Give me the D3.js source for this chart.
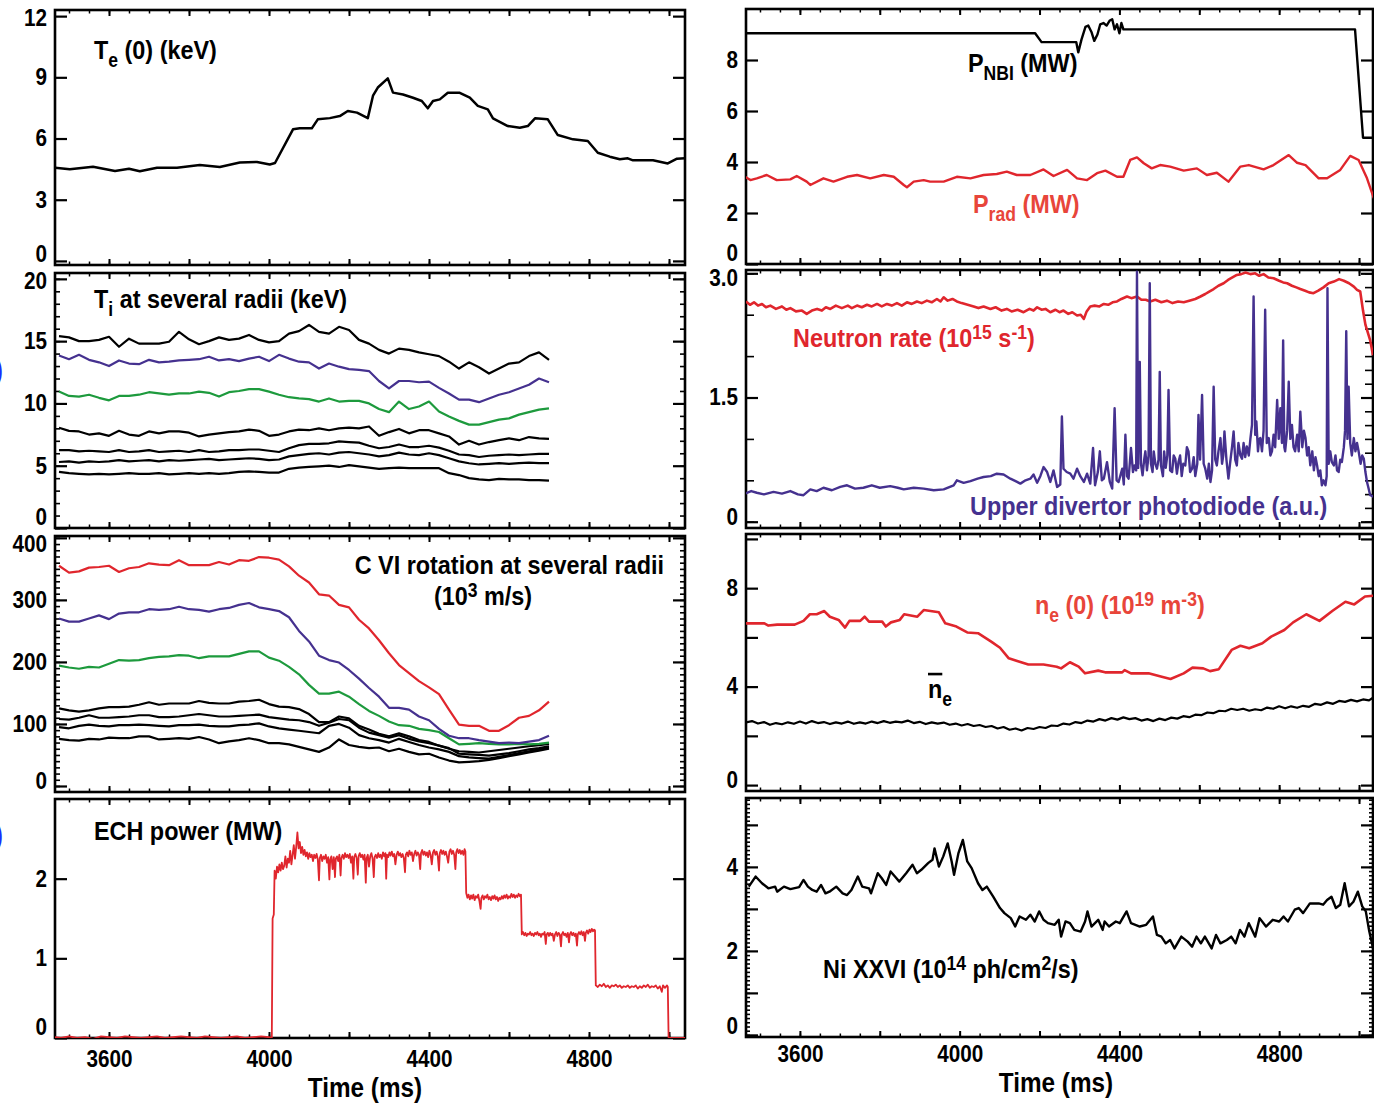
<!DOCTYPE html>
<html>
<head>
<meta charset="utf-8">
<script src="https://cdn.jsdelivr.net/npm/d3@7"></script>
<style>
  body { margin: 0; background: #fff; }
  svg { display: block; }
  text { font-family: "Liberation Sans", Arial, sans-serif; font-weight: bold; }
</style>
</head>
<body>
<div id="fig"></div>
<script>
// ---------- data ----------
// Ti and rotation profiles share one time grid: 3475 ms + 25 ms * i
const gridStart = 3475, gridStep = 25;

const teCore = [[3465,4.57],[3502,4.49],[3560,4.62],[3615,4.41],[3650,4.52],[3677,4.4],[3720,4.57],[3770,4.57],[3827,4.7],[3877,4.6],[3927,4.82],[3970,4.85],[4002,4.73],[4015,4.8],[4060,6.45],[4077,6.5],[4107,6.5],[4122,6.94],[4152,7.0],[4177,7.1],[4197,7.35],[4220,7.27],[4247,7.0],[4260,8.1],[4272,8.5],[4297,8.95],[4310,8.25],[4335,8.16],[4360,8.0],[4382,7.84],[4397,7.48],[4410,7.84],[4427,7.92],[4447,8.24],[4477,8.24],[4502,8.0],[4522,7.6],[4547,7.43],[4560,6.99],[4597,6.61],[4627,6.53],[4647,6.61],[4665,6.99],[4697,6.94],[4722,6.17],[4760,5.96],[4797,5.88],[4822,5.3],[4852,5.11],[4877,4.98],[4897,5.03],[4910,4.93],[4960,4.93],[4997,4.78],[5020,5.01],[5040,5.03]];

const tiR1 = [15.4,15.3,15.0,15.0,15.1,15.35,14.55,15.2,14.8,14.8,14.8,14.95,15.75,15.15,14.75,15.0,15.3,15.1,15.2,15.5,15.1,14.9,15.0,15.6,15.8,16.3,15.75,15.6,16.15,15.9,15.1,14.8,14.3,14.0,14.4,14.3,14.1,13.95,13.8,13.35,12.8,13.3,12.9,12.4,12.8,13.2,13.3,13.8,14.1,13.5];
const tiR2 = [13.85,13.55,13.9,13.5,13.3,13.0,13.45,13.2,13.15,13.5,13.3,13.35,13.45,13.5,13.55,13.75,13.45,13.55,13.4,13.6,13.75,13.4,13.9,13.6,13.35,13.3,12.8,13.2,12.95,12.75,12.7,12.6,11.8,11.2,11.8,11.8,11.7,11.75,11.25,10.8,10.3,10.3,10.1,10.4,10.7,10.9,11.2,11.5,12.0,11.7];
const tiR3 = [10.95,10.6,10.55,10.7,10.45,10.25,10.6,10.6,10.7,10.9,10.8,10.7,10.8,10.8,10.95,10.85,10.55,10.9,11.0,11.15,11.15,10.95,10.7,10.5,10.4,10.35,10.15,10.4,10.15,10.2,10.2,10.0,9.55,9.3,10.15,9.55,9.75,10.15,9.35,8.95,8.6,8.3,8.3,8.5,8.7,8.8,9.1,9.3,9.5,9.6];
const tiR4 = [8.05,7.8,7.75,7.5,7.6,7.4,7.8,7.5,7.4,7.75,7.6,7.75,7.75,7.65,7.35,7.5,7.6,7.7,7.75,7.9,7.8,7.4,7.5,7.75,7.9,7.85,8.0,7.85,8.0,8.05,8.0,8.15,7.4,7.7,7.95,7.6,7.85,7.85,7.6,7.35,6.7,7.0,6.7,6.9,7.05,7.2,7.05,7.3,7.2,7.15];
const tiR5 = [6.25,6.25,6.15,6.2,6.15,6.1,6.25,6.1,6.15,6.25,6.1,6.15,6.2,6.1,6.25,6.1,6.15,6.25,6.25,6.3,6.3,6.2,6.1,6.4,6.65,6.75,6.75,6.8,6.95,6.9,6.85,6.6,6.4,6.5,6.7,6.5,6.5,6.6,6.45,6.2,5.9,5.85,5.7,5.8,5.85,5.9,5.85,5.9,5.95,5.95];
const tiR6 = [5.3,5.35,5.25,5.35,5.3,5.35,5.45,5.35,5.4,5.45,5.35,5.45,5.4,5.45,5.5,5.55,5.45,5.5,5.55,5.6,5.55,5.45,5.5,5.75,5.85,5.95,6.0,5.9,6.05,6.1,6.0,5.9,5.75,5.85,6.05,5.9,5.85,6.0,5.85,5.6,5.35,5.2,5.1,5.15,5.2,5.15,5.2,5.25,5.2,5.2];
const tiR7 = [4.5,4.4,4.35,4.3,4.35,4.3,4.35,4.4,4.35,4.35,4.4,4.3,4.35,4.4,4.35,4.4,4.35,4.4,4.5,4.55,4.5,4.45,4.45,4.75,4.85,4.9,4.95,5.0,4.9,5.05,4.95,4.85,4.75,4.8,4.85,4.8,4.8,4.8,4.8,4.4,4.25,4.0,3.9,3.85,3.95,3.9,3.9,3.85,3.85,3.8];

const rotR1 = [355,344,346,352,353,355,345,351,353,359,357,356,364,356,356,356,361,357,364,363,369,368,365,354,339,328,309,307,292,288,268,254,235,214,195,182,169,159,148,123,99,97,97,89,89,98,110,113,122,136];
const rotR2 = [270,265,265,270,275,269,278,280,280,285,284,285,289,285,284,281,285,287,292,295,288,285,282,272,250,233,210,203,199,187,173,158,144,126,126,123,112,106,92,81,77,77,74,71.5,69,70,69,71.5,74,81];
const rotR3 = [194,191,189,192,191,197,203,202,203,206,208,209,211,210,206,209,209,209,213,217,217,207,202,192,180,163,149,149,152,144,132,121,113,104,98,97,92,90,87,77,67,68,69,68,67,67,68,67,68,70];
const rotR4 = [125,122,120,122,125,127,127,128,131,135,131,133,133,133,137,134,133,133,136,137,139,132,128,127,124,116,103,103,112,109,97,91,84,80,85,80,74,71,65,60,56,55,54,56,58,60,62,64,66,68];
const rotR5 = [108,107,110,114,110,110,111,112,114,114,111,111,112,114,116,114,112,112,113,114,115,111,109,107,106,103,97,102,108,106,94,86,82,78,82,76,72,69,65,61,52,51,50,49,51,53,56,59,61,64];
const rotR6 = [95,93,97,99,97,96,98,98,99,98,97,96,98,98,99,97,96,96,98,99,101,96,93,91,89,87,85,97,100,94,82,77,74,70,76,71,66,62,59,55,48,46,45,44,47,50,53,56,59,62];
const rotR7 = [76,74,73,76,75,78,77,77,80,80,75,76,77,76,79,75,69,72,74,77,74,69,69,67,63,59,55,62,75,66,63,61,62,56,60,55,51,52,46,41,38,39,40,42,45,48,51,54,57,60];

const echPower = [[3465,0.01],[3480,0.0],[3500,0.02],[3520,0.0],[3540,0.01],[3560,-0.01],[3580,0.02],[3600,0.01],[3620,0.0],[3640,0.02],[3660,0.01],[3680,0.0],[3700,0.01],[3720,0.02],[3740,0.0],[3760,0.01],[3780,0.02],[3800,0.01],[3820,0.0],[3840,0.02],[3860,0.01],[3880,0.0],[3900,0.01],[3920,0.02],[3940,0.0],[3960,0.01],[3980,0.02],[4000,0.01],[4007,0.0],
  [4009,1.5],[4012,1.55],[4014,2.1],[4017,2.0],[4020,2.15],[4023,2.08],[4026,2.18],[4029,2.1],[4032,2.2],[4035,2.12],[4038,2.16],[4041,2.28],[4044,2.14],[4047,2.25],[4050,2.2],[4053,2.35],[4056,2.18],[4059,2.3],[4062,2.42],[4065,2.25],[4068,2.4],[4071,2.58],[4074,2.38],[4077,2.46],[4080,2.32],[4083,2.4],[4086,2.3],[4089,2.36],[4092,2.28],[4095,2.33],[4098,2.25],[4101,2.32],[4104,2.27],[4107,2.3],[4110,2.22],[4113,2.3],[4116,2.26],[4119,2.31],[4122,2.24],[4125,1.98],[4127,2.26],[4130,2.3],[4133,2.22],[4136,2.28],[4139,2.25],[4142,2.3],[4145,2.2],[4148,2.27],[4151,1.99],[4153,2.24],[4156,2.28],[4159,2.12],[4162,2.27],[4165,2.02],[4167,2.25],[4170,2.28],[4173,2.22],[4176,2.3],[4179,2.04],[4181,2.26],[4184,2.3],[4187,2.25],[4190,2.32],[4193,2.27],[4196,2.3],[4199,2.26],[4202,2.31],[4205,2.2],[4208,2.28],[4211,2.0],[4213,2.27],[4216,2.31],[4219,2.26],[4222,2.05],[4224,2.28],[4227,2.32],[4230,2.27],[4233,2.3],[4236,2.24],[4239,2.3],[4242,1.95],[4244,2.26],[4247,2.3],[4250,2.15],[4253,2.28],[4256,2.32],[4259,2.25],[4262,2.02],[4264,2.27],[4267,2.3],[4270,2.26],[4273,2.32],[4276,2.27],[4279,2.3],[4282,2.25],[4285,2.33],[4288,2.28],[4291,2.32],[4293,2.0],[4295,2.3],[4298,2.27],[4301,2.33],[4304,2.29],[4307,2.34],[4310,2.28],[4313,2.31],[4316,2.18],[4319,2.3],[4322,2.34],[4325,2.29],[4328,2.32],[4331,2.27],[4334,2.31],[4337,2.26],[4340,2.08],[4342,2.3],[4345,2.33],[4348,2.28],[4351,2.35],[4354,2.3],[4357,2.33],[4360,2.22],[4363,2.31],[4366,2.35],[4369,2.29],[4372,2.33],[4375,2.3],[4378,2.12],[4380,2.32],[4383,2.36],[4386,2.3],[4389,2.34],[4392,2.29],[4395,2.33],[4398,2.27],[4401,2.35],[4404,2.3],[4407,2.18],[4410,2.33],[4413,2.36],[4416,2.3],[4419,2.34],[4422,2.28],[4425,2.1],[4427,2.32],[4430,2.36],[4433,2.31],[4436,2.35],[4439,2.3],[4442,2.34],[4445,2.28],[4448,2.2],[4451,2.34],[4454,2.37],[4457,2.31],[4460,2.35],[4463,2.3],[4466,2.12],[4468,2.33],[4471,2.37],[4474,2.32],[4477,2.36],[4480,2.31],[4483,2.35],[4486,2.3],[4489,2.37],[4491,2.34],
  [4493,1.82],[4496,1.76],[4499,1.8],[4502,1.74],[4505,1.79],[4508,1.75],[4511,1.8],[4514,1.73],[4517,1.78],[4520,1.76],[4523,1.8],[4526,1.72],[4529,1.62],[4531,1.76],[4534,1.79],[4537,1.74],[4540,1.78],[4543,1.76],[4546,1.8],[4549,1.74],[4552,1.77],[4555,1.73],[4558,1.78],[4561,1.75],[4564,1.79],[4567,1.74],[4570,1.77],[4573,1.72],[4576,1.76],[4579,1.74],[4582,1.78],[4585,1.75],[4588,1.79],[4591,1.76],[4594,1.8],[4597,1.75],[4600,1.78],[4603,1.76],[4606,1.81],[4609,1.77],[4612,1.8],[4615,1.76],[4618,1.79],[4621,1.77],[4624,1.81],[4627,1.78],[4630,1.8],
  [4632,1.3],[4635,1.33],[4638,1.29],[4641,1.32],[4644,1.28],[4647,1.31],[4650,1.3],[4653,1.33],[4656,1.29],[4659,1.31],[4662,1.28],[4665,1.32],[4668,1.3],[4671,1.33],[4674,1.29],[4677,1.31],[4680,1.27],[4683,1.31],[4686,1.3],[4689,1.33],[4692,1.18],[4694,1.3],[4697,1.32],[4700,1.28],[4703,1.32],[4706,1.29],[4709,1.31],[4712,1.22],[4715,1.3],[4718,1.33],[4721,1.28],[4724,1.32],[4727,1.3],[4730,1.15],[4732,1.3],[4735,1.33],[4738,1.29],[4741,1.31],[4744,1.27],[4747,1.32],[4750,1.2],[4752,1.3],[4755,1.33],[4758,1.29],[4761,1.32],[4764,1.28],[4767,1.31],[4770,1.16],[4772,1.3],[4775,1.33],[4778,1.3],[4781,1.34],[4784,1.29],[4787,1.33],[4790,1.22],[4792,1.32],[4795,1.35],[4798,1.31],[4801,1.36],[4804,1.33],[4807,1.37],[4810,1.34],[4813,1.36],[4815,1.35],
  [4817,0.66],[4822,0.64],[4827,0.67],[4832,0.65],[4837,0.68],[4842,0.64],[4847,0.66],[4852,0.63],[4857,0.66],[4862,0.65],[4867,0.67],[4872,0.64],[4877,0.66],[4882,0.63],[4887,0.65],[4892,0.64],[4897,0.66],[4902,0.63],[4907,0.65],[4912,0.64],[4917,0.66],[4922,0.62],[4927,0.65],[4932,0.63],[4937,0.66],[4942,0.64],[4947,0.67],[4952,0.63],[4957,0.65],[4962,0.64],[4967,0.66],[4972,0.62],[4977,0.65],[4982,0.58],[4985,0.66],[4990,0.63],[4995,0.66],[4997,0.64],[4999,0.0],[5040,0.0]];

const pNbi = [[3465,9.05],[4189,9.05],[4205,8.7],[4292,8.7],[4297,8.3],[4305,8.8],[4315,9.3],[4322,9.35],[4330,9.1],[4337,8.75],[4345,9.0],[4352,9.4],[4360,9.45],[4368,9.35],[4376,9.55],[4382,9.6],[4388,9.2],[4394,9.4],[4400,9.05],[4405,9.45],[4410,9.2],[4990,9.2],[5010,4.95],[5040,4.95]];

const pRad = [[3463,3.42],[3476,3.29],[3492,3.36],[3517,3.49],[3542,3.29],[3576,3.32],[3592,3.45],[3617,3.23],[3626,3.1],[3659,3.36],[3684,3.23],[3718,3.42],[3743,3.49],[3776,3.36],[3810,3.49],[3835,3.42],[3860,3.1],[3868,3.01],[3885,3.23],[3910,3.29],[3926,3.23],[3960,3.23],[3993,3.42],[4027,3.36],[4060,3.49],[4093,3.53],[4118,3.62],[4143,3.49],[4177,3.49],[4210,3.71],[4235,3.45],[4269,3.69],[4294,3.36],[4319,3.29],[4344,3.56],[4365,3.66],[4394,3.42],[4410,3.42],[4427,4.08],[4444,4.18],[4461,3.95],[4481,3.75],[4502,3.88],[4527,3.82],[4561,3.66],[4594,3.75],[4619,3.49],[4644,3.58],[4673,3.23],[4703,3.82],[4724,3.88],[4761,3.71],[4786,3.88],[4824,4.27],[4845,3.97],[4866,3.88],[4899,3.36],[4920,3.36],[4953,3.69],[4978,4.24],[4999,4.08],[5020,3.36],[5037,2.58]];

const neutronRate = [[3465,2.66],[3475,2.62],[3485,2.65],[3495,2.61],[3505,2.63],[3515,2.59],[3526,2.61],[3540,2.57],[3555,2.6],[3566,2.56],[3576,2.58],[3590,2.54],[3605,2.55],[3617,2.51],[3630,2.55],[3643,2.57],[3655,2.55],[3665,2.59],[3676,2.57],[3690,2.61],[3705,2.58],[3720,2.61],[3730,2.58],[3743,2.61],[3755,2.59],[3768,2.62],[3780,2.6],[3793,2.63],[3805,2.6],[3818,2.63],[3830,2.61],[3843,2.64],[3855,2.61],[3868,2.65],[3880,2.63],[3893,2.66],[3905,2.64],[3918,2.67],[3930,2.65],[3943,2.69],[3952,2.66],[3960,2.71],[3970,2.67],[3982,2.69],[3993,2.66],[4005,2.64],[4020,2.62],[4035,2.6],[4047,2.58],[4060,2.6],[4077,2.57],[4090,2.59],[4105,2.55],[4118,2.57],[4130,2.54],[4145,2.56],[4160,2.53],[4175,2.57],[4185,2.55],[4194,2.59],[4205,2.56],[4215,2.57],[4227,2.53],[4240,2.56],[4250,2.53],[4260,2.55],[4272,2.51],[4282,2.53],[4294,2.49],[4303,2.5],[4311,2.45],[4318,2.54],[4327,2.6],[4338,2.61],[4350,2.6],[4361,2.63],[4372,2.62],[4383,2.65],[4394,2.66],[4405,2.69],[4419,2.72],[4430,2.7],[4444,2.72],[4455,2.68],[4466,2.68],[4477,2.66],[4490,2.68],[4505,2.65],[4519,2.67],[4533,2.64],[4547,2.66],[4561,2.65],[4575,2.67],[4590,2.69],[4603,2.72],[4615,2.75],[4625,2.78],[4636,2.81],[4648,2.85],[4661,2.88],[4672,2.92],[4683,2.95],[4694,2.98],[4705,2.99],[4716,3.01],[4728,2.99],[4740,3.0],[4750,2.97],[4761,2.99],[4773,2.95],[4786,2.94],[4800,2.91],[4810,2.89],[4820,2.88],[4832,2.85],[4843,2.83],[4853,2.81],[4865,2.79],[4875,2.77],[4886,2.76],[4898,2.79],[4911,2.83],[4924,2.88],[4937,2.9],[4950,2.93],[4962,2.91],[4975,2.88],[4987,2.84],[4995,2.8],[5003,2.78],[5010,2.55],[5016,2.38],[5028,2.19],[5035,2.01]];

const photodiode = [[3463,0.34],[3478,0.37],[3492,0.35],[3510,0.33],[3534,0.36],[3555,0.34],[3576,0.37],[3595,0.33],[3609,0.32],[3626,0.39],[3642,0.37],[3659,0.41],[3680,0.38],[3701,0.42],[3718,0.44],[3738,0.40],[3759,0.41],[3780,0.44],[3800,0.41],[3826,0.43],[3845,0.41],[3860,0.39],[3885,0.41],[3910,0.40],[3935,0.38],[3960,0.39],[3985,0.44],[3993,0.50],[4010,0.47],[4027,0.49],[4045,0.52],[4060,0.54],[4078,0.55],[4093,0.58],[4110,0.57],[4127,0.52],[4140,0.49],[4152,0.46],[4165,0.50],[4177,0.52],[4185,0.57],[4194,0.47],[4202,0.55],[4210,0.66],[4219,0.60],[4227,0.48],[4235,0.62],[4244,0.42],[4252,0.45],[4256,1.27],[4260,0.64],[4268,0.60],[4277,0.58],[4285,0.52],[4294,0.64],[4302,0.55],[4311,0.48],[4319,0.58],[4327,0.46],[4334,0.89],[4339,0.44],[4346,0.60],[4351,0.85],[4356,0.50],[4361,0.52],[4369,0.72],[4376,0.48],[4382,0.40],[4388,1.37],[4393,0.50],[4398,0.48],[4407,0.64],[4411,0.45],[4415,1.05],[4419,0.55],[4423,0.52],[4429,0.89],[4434,0.60],[4438,0.68],[4442,0.62],[4444,3.02],[4447,0.65],[4451,1.93],[4454,0.70],[4458,0.56],[4462,0.75],[4465,0.85],[4469,0.62],[4473,0.80],[4476,2.88],[4479,0.70],[4483,0.60],[4486,0.85],[4490,0.70],[4494,0.64],[4498,0.75],[4501,1.81],[4504,0.68],[4509,0.55],[4512,0.85],[4516,0.65],[4520,0.80],[4523,1.59],[4527,0.62],[4532,0.60],[4536,0.80],[4540,0.76],[4544,0.58],[4548,0.72],[4552,0.80],[4556,0.55],[4560,0.70],[4565,0.68],[4569,0.90],[4573,0.85],[4577,0.60],[4582,0.64],[4586,0.78],[4590,0.55],[4595,0.70],[4598,1.29],[4602,0.75],[4607,1.53],[4611,0.70],[4615,0.64],[4620,0.52],[4624,0.70],[4628,0.48],[4632,0.62],[4636,1.63],[4640,0.75],[4644,0.68],[4648,0.85],[4653,1.01],[4657,0.70],[4660,0.80],[4663,1.09],[4668,0.75],[4673,0.52],[4677,0.70],[4682,0.90],[4686,1.09],[4690,0.75],[4694,0.68],[4698,0.95],[4703,0.80],[4707,0.76],[4711,0.95],[4715,0.78],[4719,0.91],[4724,0.80],[4728,1.00],[4732,1.17],[4736,2.72],[4740,1.05],[4743,1.21],[4747,0.85],[4750,1.00],[4753,1.01],[4757,0.85],[4761,1.10],[4765,2.56],[4769,0.95],[4774,1.01],[4778,0.80],[4782,0.85],[4786,1.05],[4790,0.90],[4795,1.47],[4799,1.00],[4803,1.37],[4807,0.95],[4810,2.19],[4813,0.90],[4815,0.85],[4820,1.10],[4824,1.69],[4828,1.00],[4832,1.17],[4836,0.90],[4840,0.85],[4845,1.05],[4849,0.85],[4853,1.33],[4858,0.90],[4862,1.10],[4866,1.01],[4870,0.80],[4874,0.90],[4878,0.68],[4883,0.85],[4887,0.62],[4891,0.78],[4895,0.68],[4899,0.55],[4903,0.62],[4907,0.44],[4911,0.50],[4916,0.44],[4919,0.55],[4921,2.82],[4924,0.70],[4928,0.85],[4932,0.72],[4937,0.68],[4941,0.80],[4945,0.62],[4949,0.60],[4953,0.75],[4957,0.72],[4962,0.90],[4965,1.10],[4968,2.30],[4971,1.00],[4974,1.63],[4978,0.95],[4982,0.80],[4987,1.01],[4991,0.85],[4995,0.95],[4999,0.85],[5004,0.70],[5008,0.80],[5012,0.76],[5016,0.60],[5020,0.48],[5024,0.40],[5028,0.32],[5038,0.30]];

const neCore = [[3465,6.57],[3511,6.57],[3521,6.48],[3543,6.52],[3587,6.52],[3609,6.67],[3625,6.94],[3642,6.94],[3661,7.07],[3675,6.84],[3697,6.71],[3713,6.4],[3724,6.67],[3751,6.67],[3762,6.84],[3773,6.64],[3806,6.64],[3815,6.44],[3828,6.61],[3850,6.71],[3861,6.94],[3894,6.84],[3910,7.11],[3948,7.02],[3964,6.57],[3992,6.44],[4019,6.2],[4046,6.17],[4079,5.83],[4101,5.58],[4123,5.15],[4144,5.04],[4172,4.9],[4210,4.9],[4243,4.81],[4254,4.74],[4276,4.99],[4298,4.81],[4314,4.54],[4347,4.65],[4364,4.58],[4407,4.58],[4413,4.67],[4429,4.54],[4473,4.54],[4506,4.4],[4528,4.31],[4561,4.54],[4583,4.77],[4610,4.74],[4627,4.63],[4649,4.71],[4681,5.49],[4703,5.66],[4725,5.56],[4758,5.76],[4780,6.03],[4813,6.3],[4835,6.61],[4868,6.94],[4901,6.67],[4933,7.07],[4966,7.45],[4988,7.34],[5015,7.66],[5040,7.7]];

const neBar = [[3465,2.55],[3480,2.6],[3495,2.5],[3510,2.56],[3525,2.45],[3540,2.52],[3555,2.47],[3570,2.55],[3585,2.49],[3600,2.58],[3615,2.5],[3630,2.6],[3645,2.52],[3660,2.56],[3675,2.48],[3690,2.55],[3705,2.5],[3720,2.58],[3735,2.49],[3750,2.55],[3765,2.5],[3780,2.58],[3795,2.52],[3810,2.6],[3825,2.53],[3840,2.58],[3855,2.55],[3870,2.62],[3885,2.52],[3900,2.57],[3915,2.48],[3930,2.55],[3945,2.5],[3960,2.54],[3975,2.45],[3990,2.5],[4005,2.42],[4020,2.48],[4035,2.4],[4050,2.44],[4065,2.36],[4080,2.4],[4095,2.3],[4110,2.36],[4125,2.25],[4140,2.3],[4155,2.22],[4170,2.32],[4185,2.28],[4200,2.36],[4215,2.32],[4230,2.42],[4245,2.4],[4260,2.5],[4275,2.46],[4290,2.56],[4305,2.52],[4320,2.62],[4335,2.58],[4350,2.68],[4365,2.62],[4380,2.72],[4395,2.66],[4410,2.75],[4425,2.68],[4440,2.72],[4455,2.62],[4470,2.68],[4485,2.6],[4500,2.7],[4515,2.64],[4530,2.74],[4545,2.7],[4560,2.8],[4575,2.76],[4590,2.86],[4605,2.84],[4620,2.95],[4635,2.92],[4650,3.02],[4665,3.0],[4680,3.1],[4695,3.05],[4710,3.1],[4725,3.02],[4740,3.08],[4755,3.04],[4770,3.15],[4785,3.1],[4800,3.2],[4815,3.12],[4830,3.2],[4845,3.14],[4860,3.22],[4875,3.18],[4890,3.3],[4905,3.26],[4920,3.36],[4935,3.3],[4950,3.42],[4965,3.38],[4980,3.46],[4995,3.4],[5010,3.48],[5025,3.44],[5035,3.55]];

const niXXVI = [[3472,3.53],[3489,3.77],[3505,3.61],[3521,3.49],[3538,3.53],[3543,3.41],[3560,3.53],[3576,3.47],[3598,3.52],[3609,3.69],[3620,3.53],[3631,3.45],[3642,3.41],[3653,3.57],[3664,3.37],[3674,3.41],[3691,3.53],[3707,3.37],[3718,3.33],[3729,3.45],[3745,3.77],[3756,3.53],[3773,3.49],[3778,3.37],[3795,3.85],[3805,3.73],[3816,3.57],[3827,3.89],[3838,3.77],[3849,3.65],[3866,3.85],[3882,4.05],[3893,3.85],[3904,3.93],[3921,4.09],[3932,4.17],[3937,4.44],[3948,4.01],[3959,4.25],[3970,4.56],[3980,4.13],[3986,3.81],[3997,4.33],[4008,4.64],[4019,4.13],[4030,3.97],[4046,3.61],[4057,3.45],[4068,3.53],[4084,3.29],[4101,3.02],[4112,2.9],[4128,2.78],[4139,2.58],[4150,2.82],[4166,2.74],[4177,2.86],[4188,2.7],[4199,2.94],[4210,2.74],[4221,2.66],[4238,2.62],[4248,2.74],[4254,2.34],[4265,2.7],[4276,2.66],[4287,2.5],[4303,2.46],[4314,2.7],[4320,2.94],[4330,2.58],[4347,2.74],[4358,2.5],[4363,2.7],[4374,2.58],[4391,2.7],[4401,2.66],[4418,2.94],[4429,2.66],[4451,2.58],[4467,2.62],[4484,2.82],[4494,2.38],[4505,2.34],[4516,2.18],[4527,2.26],[4538,2.06],[4555,2.34],[4571,2.22],[4582,2.1],[4593,2.34],[4604,2.18],[4614,2.34],[4631,2.06],[4642,2.38],[4653,2.18],[4669,2.26],[4680,2.34],[4691,2.18],[4702,2.5],[4713,2.34],[4724,2.66],[4740,2.34],[4751,2.78],[4767,2.58],[4784,2.74],[4800,2.7],[4811,2.82],[4822,2.7],[4839,2.98],[4849,3.02],[4860,2.9],[4877,3.13],[4899,3.13],[4910,3.1],[4920,3.21],[4931,3.29],[4942,3.02],[4953,3.1],[4964,3.61],[4975,3.06],[4986,3.17],[4997,3.41],[5008,3.06],[5017,2.94],[5025,2.5],[5036,2.02]];

// axis tick values
const timeLabels = [3600, 4000, 4400, 4800];

// ---------- drawing ----------
const SQ = 0.9;
const RED = "#e0262d", PURPLE = "#45318f", GREEN = "#1d9a3d", ORANGE_RED = "#e8453a";
const svg = d3.select("#fig").append("svg").attr("width", 1374).attr("height", 1104);

const gridSeries = vals => vals.map((v, i) => [gridStart + i * gridStep, v]);

function addText(x, y, parts, size, color, anchor) {
  const t = svg.append("text")
    .attr("transform", `translate(${x},${y}) scale(${SQ},1)`)
    .attr("font-size", size).attr("fill", color || "#000")
    .attr("text-anchor", anchor || "start");
  let cur = 0;
  parts.forEach(p => {
    const s = typeof p === "string" ? { s: p } : p;
    const off = s.sub ? size * 0.3 : s.sup ? -size * 0.3 : 0;
    const ts = t.append("tspan").text(s.s).attr("dy", off - cur);
    if (s.sub || s.sup) ts.attr("font-size", size * 0.75);
    if (s.over) ts.style("text-decoration", "overline");
    cur = off;
  });
  return t;
}

let clipN = 0;
function drawPanel(p) {
  const x = d3.scaleLinear().domain(p.tDomain).range([p.x0, p.x1]);
  const y = d3.scaleLinear().domain(p.yDomain).range([p.y1, p.y0]);

  const tidy = g => {
    g.select(".domain").remove();
    g.attr("font-family", null).attr("font-size", null);
    g.selectAll(".tick line").attr("stroke", "#000");
  };

  // frame
  svg.append("rect").attr("x", p.x0).attr("y", p.y0)
    .attr("width", p.x1 - p.x0).attr("height", p.y1 - p.y0)
    .attr("fill", "none").attr("stroke", "#000").attr("stroke-width", 2.6);

  // time ticks, top and bottom
  const tMinor = d3.range(3500, 5001, 50), tMajor = d3.range(3600, 5001, 200);
  [[d3.axisTop, p.y0], [d3.axisBottom, p.y1]].forEach(([ax, yy]) => {
    svg.append("g").attr("transform", `translate(0,${yy})`)
      .call(ax(x).tickValues(tMinor).tickSize(-3.5).tickFormat("")).call(tidy)
      .selectAll("line").attr("stroke-width", 1.5);
    svg.append("g").attr("transform", `translate(0,${yy})`)
      .call(ax(x).tickValues(tMajor).tickSize(-6).tickFormat("")).call(tidy)
      .selectAll("line").attr("stroke-width", 2);
  });
  if (p.timeLabels) {
    const g = svg.append("g").attr("transform", `translate(0,${p.y1})`)
      .call(d3.axisBottom(x).tickValues(timeLabels).tickSize(0).tickPadding(p.tPad).tickFormat(d3.format("d")))
      .call(tidy);
    g.selectAll("text").attr("font-size", 23).attr("fill", "#000").attr("transform", `scale(${SQ},1)`);
  }

  // value ticks, left and right
  const sides = [[d3.axisLeft, p.x0, p.leftMinor, p.leftMajor, true], [d3.axisRight, p.x1, p.rightMinor || p.leftMinor, p.rightMajor || p.leftMajor, false]];
  sides.forEach(([ax, xx, minor, major, labels]) => {
    if (minor) {
      svg.append("g").attr("transform", `translate(${xx},0)`)
        .call(ax(y).tickValues(minor).tickSize(-(p.minorLen || 5)).tickFormat("")).call(tidy)
        .selectAll("line").attr("stroke-width", 1.6);
    }
    const g = svg.append("g").attr("transform", `translate(${xx},0)`)
      .call(ax(y).tickValues(major).tickSize(-(p.majorLen || 12)).tickPadding(9)
        .tickFormat(labels ? (p.fmt || d3.format("d")) : ""))
      .call(tidy);
    g.selectAll("line").attr("stroke-width", 2.2);
    if (labels) {
      if (p.labelVals) g.selectAll("text").filter(d => !p.labelVals.includes(d)).remove();
      g.selectAll("text")
        .attr("font-size", 23).attr("fill", "#000")
        .attr("transform", `scale(${SQ},1)`)
        .attr("y", d => Math.max(p.y0 + 8, Math.min(p.y1 - 11, y(d))) - y(d));
    }
  });

  // data, drawn over the frame
  const id = "clip" + (clipN++);
  svg.append("clipPath").attr("id", id).append("rect")
    .attr("x", p.x0).attr("y", p.y0 - 1).attr("width", p.x1 - p.x0).attr("height", p.y1 - p.y0 + 1);
  const line = d3.line().x(d => x(d[0])).y(d => y(d[1]));
  const dg = svg.append("g").attr("clip-path", `url(#${id})`);
  p.series.forEach(s => {
    dg.append("path").datum(s.data).attr("d", line)
      .attr("fill", "none").attr("stroke", s.color).attr("stroke-width", s.w || 2.2)
      .attr("stroke-linejoin", "round");
  });
  return { x, y };
}

const L = { x0: 55, x1: 685, tDomain: [3465, 5040] };
const R = { x0: 746, x1: 1373, tDomain: [3465, 5035] };

// left column
drawPanel({ ...L, y0: 10, y1: 265, yDomain: [-0.2, 12.3], leftMajor: [0, 3, 6, 9, 12],
  series: [{ data: teCore, color: "#000", w: 2.5 }] });
drawPanel({ ...L, y0: 273, y1: 528, yDomain: [0, 20.47], leftMajor: [0, 5, 10, 15, 20],
  leftMinor: d3.range(0, 21, 1),
  series: [
    { data: gridSeries(tiR7), color: "#000" }, { data: gridSeries(tiR6), color: "#000" },
    { data: gridSeries(tiR5), color: "#000" }, { data: gridSeries(tiR4), color: "#000" },
    { data: gridSeries(tiR3), color: GREEN }, { data: gridSeries(tiR2), color: PURPLE },
    { data: gridSeries(tiR1), color: "#000" }] });
drawPanel({ ...L, y0: 536, y1: 792, yDomain: [-9.7, 403], leftMajor: [0, 100, 200, 300, 400],
  leftMinor: d3.range(0, 401, 10), minorLen: 5,
  series: [
    { data: gridSeries(rotR7), color: "#000" }, { data: gridSeries(rotR6), color: "#000" },
    { data: gridSeries(rotR5), color: "#000" }, { data: gridSeries(rotR4), color: "#000" },
    { data: gridSeries(rotR3), color: GREEN }, { data: gridSeries(rotR2), color: PURPLE },
    { data: gridSeries(rotR1), color: RED }] });
drawPanel({ ...L, y0: 799, y1: 1038, yDomain: [0, 3], leftMajor: [0, 1, 2],
  timeLabels: true, tPad: 13,
  series: [{ data: echPower, color: RED, w: 1.8 }] });

// right column
drawPanel({ ...R, y0: 9, y1: 264, yDomain: [0, 10], leftMajor: [0, 2, 4, 6, 8],
  series: [{ data: pRad, color: RED, w: 2.4 }, { data: pNbi, color: "#000", w: 2.4 }] });
drawPanel({ ...R, y0: 270, y1: 528, yDomain: [-0.076, 3.04], leftMajor: [0, 1.5, 3],
  leftMinor: d3.range(0, 3.01, 0.5), rightMinor: d3.range(0, 18.5, 1).map(k => k / 6), rightMajor: [0, 1.5, 3],
  minorLen: 8,
  fmt: d => d === 0 ? "0" : d3.format(".1f")(d),
  series: [{ data: neutronRate, color: RED, w: 2.6 }, { data: photodiode, color: PURPLE, w: 2.4 }] });
drawPanel({ ...R, y0: 534, y1: 791, yDomain: [-0.24, 10.2], leftMajor: [0, 2, 4, 6, 8, 10],
  labelVals: [0, 4, 8],
  series: [{ data: neBar, color: "#000", w: 2.2 }, { data: neCore, color: RED, w: 2.6 }] });
drawPanel({ ...R, y0: 798, y1: 1037, yDomain: [-0.05, 5.64], leftMajor: [0, 1, 2, 3, 4, 5],
  labelVals: [0, 2, 4], leftMinor: d3.range(0, 5.61, 0.1), minorLen: 4,
  timeLabels: true, tPad: 9,
  series: [{ data: niXXVI, color: "#000", w: 2.4 }] });

// ---------- labels ----------
const TS = 26;
addText(94, 59, ["T", { s: "e", sub: true }, " (0) (keV)"], TS);
addText(94, 308, ["T", { s: "i", sub: true }, " at several radii (keV)"], TS);
addText(664, 574, ["C VI rotation at several radii"], TS, "#000", "end");
addText(434, 605, ["(10", { s: "3", sup: true }, " m/s)"], TS);
addText(94, 840, ["ECH power (MW)"], TS);
addText(365, 1097, ["Time (ms)"], 27, "#000", "middle");

addText(968, 72, ["P", { s: "NBI", sub: true }, " (MW)"], TS);
addText(973, 213, ["P", { s: "rad", sub: true }, " (MW)"], TS, ORANGE_RED);
addText(793, 347, ["Neutron rate (10", { s: "15", sup: true }, " s", { s: "-1", sup: true }, ")"], TS, RED);
addText(970, 515, ["Upper divertor photodiode (a.u.)"], TS, PURPLE);
addText(1035, 614, ["n", { s: "e", sub: true }, " (0) (10", { s: "19", sup: true }, " m", { s: "-3", sup: true }, ")"], TS, ORANGE_RED);
addText(928, 698, [{ s: "n", over: true }, { s: "e", sub: true }], TS);
addText(823, 978, ["Ni XXVI (10", { s: "14", sup: true }, " ph/cm", { s: "2", sup: true }, "/s)"], TS);
addText(1056, 1092, ["Time (ms)"], 27, "#000", "middle");

// panel letters of the neighbouring figure, clipped at the left edge
addText(-6, 380, [")"], 30, "#1a2cff");
addText(-6, 845, [")"], 30, "#1a2cff");
</script>
</body>
</html>
